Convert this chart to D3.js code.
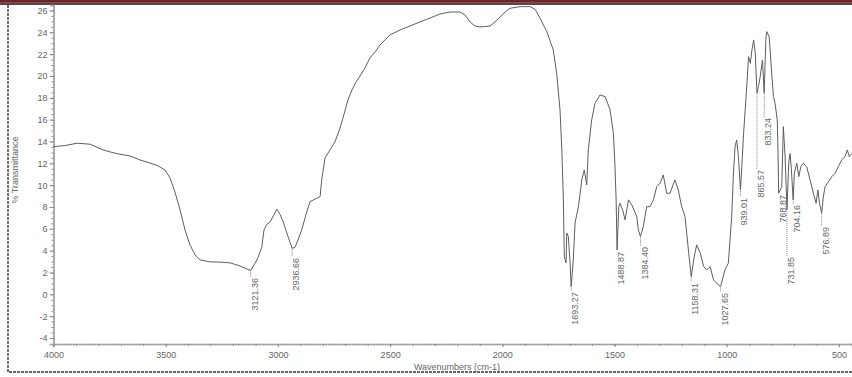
<!DOCTYPE html>
<html>
<head>
<meta charset="utf-8">
<script src="https://cdn.jsdelivr.net/npm/d3@7"></script>
<style>
  html, body { margin: 0; padding: 0; background: #fff; }
  svg { display: block; }
  text { font-family: "Liberation Sans", Arial, sans-serif; }
</style>
</head>
<body>
<svg id="chart" width="852" height="377"></svg>
<script>
// IR spectrum: wavenumber (cm-1) against % transmittance
const wavenumbers = [
  4000, 3950, 3895, 3837, 3779, 3740, 3704, 3659, 3615, 3570, 3534, 3503, 3481, 3459, 3436,
  3414, 3392, 3369, 3347, 3303, 3258, 3213, 3169, 3121.36, 3105, 3090, 3072, 3062, 3050, 3036,
  3020, 3005, 2990, 2977, 2955, 2936.66, 2924, 2910, 2894, 2875, 2857, 2827, 2812, 2805, 2790,
  2768, 2746, 2723, 2710, 2688, 2670, 2652, 2634, 2612, 2590, 2567, 2545, 2523, 2500, 2456,
  2411, 2367, 2322, 2278, 2233, 2189, 2166, 2144, 2122, 2100, 2055, 2033, 2010, 1988, 1966,
  1921, 1877, 1854, 1832, 1802, 1773, 1758, 1743, 1735, 1728, 1724, 1716, 1713, 1706, 1698,
  1693.27, 1684, 1676, 1661, 1646, 1635, 1624, 1617, 1602, 1587, 1565, 1542, 1520, 1505, 1498,
  1493, 1488.87, 1481, 1476, 1464, 1453, 1438, 1423, 1401, 1394, 1384.40, 1372, 1357, 1342, 1327,
  1312, 1297, 1283, 1268, 1253, 1231, 1216, 1201, 1186, 1171, 1158.31, 1145, 1134, 1118, 1103,
  1089, 1074, 1059, 1047, 1027.65, 1008, 993, 978, 971, 963, 956, 948, 939.01, 933, 925,
  918, 910, 903, 895, 888, 880, 873, 865.57, 859, 851, 841, 833.24, 826, 822, 811,
  802, 792, 785, 775, 771, 768.87, 755, 748, 740, 731.85, 724, 718, 712, 704.16, 699,
  688, 679, 670, 659, 644, 629, 614, 602, 594, 587, 576.89, 570, 562, 547, 532,
  517, 503, 488, 473, 463, 454, 442
];
const transmittance = [
  13.53, 13.62, 13.84, 13.75, 13.23, 13.0, 12.83, 12.68, 12.31, 12.03, 11.76, 11.39, 10.66, 9.38, 7.73,
  5.90, 4.53, 3.61, 3.15, 2.97, 2.95, 2.88, 2.60, 2.17, 2.75, 3.3, 4.3, 5.9, 6.4, 6.6,
  7.2, 7.8, 7.3, 6.66, 5.29, 4.22, 4.3, 5.0, 5.90, 7.3, 8.49, 8.80, 8.95, 10.48, 12.49,
  13.23, 13.96, 15.24, 16.16, 17.80, 18.72, 19.45, 20.0, 20.73, 21.65, 22.2, 22.84, 23.3, 23.76, 24.21,
  24.58, 24.95, 25.31, 25.68, 25.86, 25.86, 25.59, 24.95, 24.58, 24.49, 24.58, 24.95, 25.4, 25.86, 26.2,
  26.35, 26.35, 26.1, 25.29, 24.06, 22.38, 20.25, 16.88, 13.23, 8.65, 3.45, 2.88, 5.62, 5.29, 2.85,
  0.71, 3.15, 6.54, 8.03, 10.48, 11.39, 10.02, 13.23, 15.97, 17.5, 18.26, 18.11, 16.89, 14.75, 11.70,
  8.65, 4.07, 8.03, 8.34, 7.73, 6.82, 8.65, 8.19, 7.12, 5.90, 5.29, 6.2, 8.03, 8.03, 8.65,
  9.86, 10.18, 10.94, 9.26, 9.26, 10.48, 9.56, 8.03, 7.12, 4.07, 1.62, 3.45, 4.53, 3.77, 2.54,
  2.24, 2.54, 1.32, 1.05, 0.71, 2.24, 2.85, 7.12, 10.78, 13.53, 14.14, 12.61, 9.56, 11.70, 14.75,
  16.89, 19.33, 21.77, 21.16, 22.38, 23.3, 22.08, 18.42, 19.02, 19.94, 21.47, 18.42, 23.3, 24.06, 23.6,
  20.85, 18.11, 17.5, 15.97, 12.31, 9.26, 9.86, 15.36, 12.61, 7.73, 12.0, 12.9, 11.4, 8.65, 11.1,
  12.0, 10.78, 11.70, 12.0, 11.70, 10.48, 9.26, 8.34, 9.56, 8.34, 7.43, 8.9, 9.86, 10.32, 10.78,
  11.09, 11.70, 12.31, 12.61, 13.23, 12.61, 12.92
];

// Picked peaks and the %T level where each label begins
const peakWavenumbers = [3121.36, 2936.66, 1693.27, 1488.87, 1384.40, 1158.31, 1027.65,
  939.01, 865.57, 833.24, 768.87, 731.85, 704.16, 576.89];
const peakLabels = ["3121.36", "2936.66", "1693.27", "1488.87", "1384.40", "1158.31", "1027.65",
  "939.01", "865.57", "833.24", "768.87", "731.85", "704.16", "576.89"];
const peakLabelLevel = [1.5, 3.33, 0.2, 3.88, 4.34, 1.05, 0.13,
  8.83, 11.39, 16.16, 9.1, 3.43, 8.19, 6.17];

const xTickValues = [4000, 3500, 3000, 2500, 2000, 1500, 1000, 500];
const xTickLabels = ["4000", "3500", "3000", "2500", "2000", "1500", "1000", "500"];
const yTickValues = [-4, -2, 0, 2, 4, 6, 8, 10, 12, 14, 16, 18, 20, 22, 24, 26];

const svg = d3.select("#chart");
const W = 852, H = 377;

// page decoration: maroon band and black rule at the top
svg.append("rect").attr("x", 0).attr("y", 0).attr("width", W).attr("height", 2.8).attr("fill", "#6b2428");
svg.append("line").attr("x1", 0).attr("x2", W).attr("y1", 4).attr("y2", 4)
  .attr("stroke", "#111").attr("stroke-width", 1.4);

// dashed frame (left and bottom sides visible)
svg.append("path")
  .attr("d", `M8,5 L8,372 L${W},372`)
  .attr("fill", "none").attr("stroke", "#333").attr("stroke-width", 1.4)
  .attr("stroke-dasharray", "3,1");

const x = d3.scaleLinear().domain([4000, 442]).range([53.5, 852]);
const y = d3.scaleLinear().domain([-4.55, 26.5]).range([344, 5]);

const axisColor = "#9a9a9a";
const textColor = "#666";

// x axis
const gx = svg.append("g").attr("transform", "translate(0,344)");
gx.call(d3.axisBottom(x).tickValues(d3.range(4000, 441, -100)).tickSize(2).tickFormat(""));
gx.append("g").call(d3.axisBottom(x).tickValues(xTickValues).tickSize(3)
  .tickFormat((d, i) => xTickLabels[i]));
gx.selectAll(".domain").attr("stroke", axisColor).attr("stroke-width", 1.5).attr("stroke-dasharray", "2,1");
gx.selectAll(".tick line").attr("stroke", "#888");
gx.selectAll("text").attr("fill", textColor).attr("font-size", "9px").attr("dy", "0.9em");

// y axis
const gy = svg.append("g").attr("transform", "translate(53.5,0)");
gy.call(d3.axisLeft(y).tickValues(d3.range(-4, 26.01, 0.5)).tickSize(2).tickFormat(""));
gy.append("g").call(d3.axisLeft(y).tickValues(yTickValues).tickSize(4).tickFormat(d => String(d)));
gy.selectAll(".domain").attr("stroke", axisColor).attr("stroke-width", 1.5).attr("stroke-dasharray", "2,1");
gy.selectAll(".tick line").attr("stroke", "#888");
gy.selectAll("text").attr("fill", textColor).attr("font-size", "9px").attr("x", -6);

// axis titles
svg.append("text").attr("x", 457).attr("y", 370).attr("text-anchor", "middle")
  .attr("fill", textColor).attr("font-size", "9px").text("Wavenumbers (cm-1)");
svg.append("text").attr("transform", "translate(18,170) rotate(-90)").attr("text-anchor", "middle")
  .attr("fill", textColor).attr("font-size", "9px").text("% Transmittance");

// spectrum
const spectrum = wavenumbers.map((w, i) => ({ w, t: transmittance[i] }));
svg.append("path").datum(spectrum)
  .attr("fill", "none").attr("stroke", "#5e5e5e").attr("stroke-width", 1)
  .attr("stroke-linejoin", "round")
  .attr("d", d3.line().x(d => x(d.w)).y(d => y(d.t)));

// peak markers and labels
const peaks = peakWavenumbers.map((w, i) => ({
  w, label: peakLabels[i], level: peakLabelLevel[i],
  t: transmittance[wavenumbers.indexOf(w)]
}));
const gp = svg.append("g");
gp.selectAll("line").data(peaks).join("line")
  .attr("x1", d => x(d.w)).attr("x2", d => x(d.w))
  .attr("y1", d => y(d.t) + 1).attr("y2", d => y(d.level) - 1)
  .attr("stroke", "#666").attr("stroke-width", 0.8).attr("stroke-dasharray", "1,1");
gp.selectAll("text").data(peaks).join("text")
  .attr("transform", d => `translate(${x(d.w) + 7},${y(d.level)}) rotate(-90)`)
  .attr("text-anchor", "end").attr("fill", textColor).attr("font-size", "9px")
  .text(d => d.label);
</script>
</body>
</html>
